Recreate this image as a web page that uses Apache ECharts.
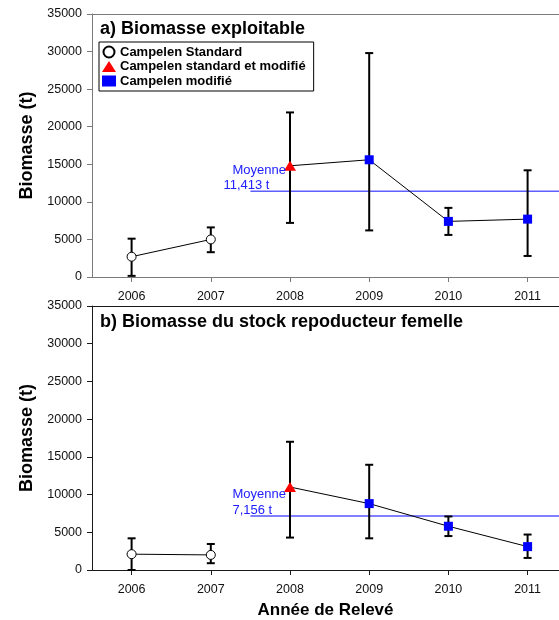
<!DOCTYPE html>
<html>
<head>
<meta charset="utf-8">
<script src="https://cdn.jsdelivr.net/npm/echarts@6/dist/echarts.min.js"></script>
<style>
  html, body { margin: 0; padding: 0; background: #fff; }
  #chart { width: 559px; height: 620px; }
</style>
</head>
<body>
<div id="chart"></div>
<script>
// ---- data ----
const years = [2006, 2007, 2008, 2009, 2010, 2011];
const gear = ['standard', 'standard', 'mixed', 'modified', 'modified', 'modified'];
const exploitValues = [2700, 5000, 14800, 15600, 7400, 7700];
const exploitLow = [150, 3300, 7200, 6200, 5600, 2800];
const exploitHigh = [5100, 6600, 21900, 29800, 9200, 14200];
const ssbValues = [2100, 2000, 11000, 8800, 5800, 3100];
const ssbLow = [0, 900, 4300, 4200, 4500, 1600];
const ssbHigh = [4200, 3450, 17000, 13950, 7100, 4700];
const meanExploit = 11413;
const meanSsb = 7156;
const meanStartYear = 2007.5;
const yTicks = [0, 5000, 10000, 15000, 20000, 25000, 30000, 35000];
const panelTitles = ['a) Biomasse exploitable', 'b) Biomasse du stock repoducteur femelle'];
const legendNames = ['Campelen Standard', 'Campelen standard et modifié', 'Campelen modifié'];
const yTitle = 'Biomasse (t)';
const xTitle = 'Année de Relevé';
const meanWord = 'Moyenne';

// ---- layout ----
const GRID_W = 467;
const X_MIN = 2005.5, X_MAX = 2005.5 + GRID_W / 79.2;
const FONT = '"Liberation Sans", Arial, sans-serif';
const axisColors = ['#7a7a7a', '#1a1a1a'];
const meanColors = ['#5f5fff', '#0000ff'];

const chart = echarts.init(document.getElementById('chart'), null, { renderer: 'canvas' });

function pts(vals, which) {
  const out = [];
  years.forEach((y, i) => { if (which.includes(gear[i])) out.push([y, vals[i]]); });
  return out;
}

function panelSeries(p, vals, low, high, mean) {
  const list = [];
  list.push({
    type: 'line', xAxisIndex: p, yAxisIndex: p, silent: true, z: 1,
    data: [[meanStartYear, mean], [X_MAX, mean]], symbol: 'none',
    lineStyle: { color: meanColors[p], width: p === 0 ? 1.6 : 1.2 }
  });
  list.push({
    type: 'custom', xAxisIndex: p, yAxisIndex: p, silent: true, z: 2,
    data: years.map((y, i) => [y, low[i], high[i]]),
    renderItem: function (params, api) {
      const x = api.value(0);
      const a = api.coord([x, api.value(1)]);
      const b = api.coord([x, api.value(2)]);
      const cap = 4;
      const st = { stroke: '#000', lineWidth: 2 };
      return {
        type: 'group',
        children: [
          { type: 'line', shape: { x1: a[0], y1: a[1], x2: b[0], y2: b[1] }, style: st },
          { type: 'line', shape: { x1: a[0] - cap, y1: a[1], x2: a[0] + cap, y2: a[1] }, style: st },
          { type: 'line', shape: { x1: b[0] - cap, y1: b[1], x2: b[0] + cap, y2: b[1] }, style: st }
        ]
      };
    }
  });
  list.push({
    type: 'line', xAxisIndex: p, yAxisIndex: p, silent: true, z: 3, symbol: 'none',
    data: pts(vals, ['standard']), lineStyle: { color: '#000', width: 1 }
  });
  list.push({
    type: 'line', xAxisIndex: p, yAxisIndex: p, silent: true, z: 3, symbol: 'none',
    data: pts(vals, ['mixed', 'modified']), lineStyle: { color: '#000', width: 1 }
  });
  list.push({
    name: legendNames[0], type: 'scatter', xAxisIndex: p, yAxisIndex: p, z: 4,
    symbol: 'circle', symbolSize: 9, data: pts(vals, ['standard']),
    itemStyle: { color: '#fff', borderColor: '#000', borderWidth: 1, opacity: 1 }
  });
  list.push({
    name: legendNames[1], type: 'scatter', xAxisIndex: p, yAxisIndex: p, z: 4,
    symbol: 'triangle', symbolSize: [12, 10], data: pts(vals, ['mixed']),
    itemStyle: { color: '#ff0000', opacity: 1 }
  });
  list.push({
    name: legendNames[2], type: 'scatter', xAxisIndex: p, yAxisIndex: p, z: 4,
    symbol: 'rect', symbolSize: 9, data: pts(vals, ['modified']),
    itemStyle: { color: '#0000ff', opacity: 1 }
  });
  return list;
}

function xAxis(p) {
  return {
    type: 'value', gridIndex: p, min: X_MIN, max: X_MAX,
    splitLine: { show: false },
    axisLine: { show: true, onZero: false, lineStyle: { color: axisColors[p], width: 1 } },
    axisTick: { show: true, inside: false, length: 5, customValues: years, lineStyle: { color: axisColors[p] } },
    axisLabel: { customValues: years, margin: 13, color: '#111', fontSize: 12.5, fontFamily: FONT, formatter: v => String(v) },
    name: p === 1 ? xTitle : '', nameLocation: 'middle', nameGap: 32,
    nameTextStyle: { fontSize: 17, fontWeight: 'bold', color: '#000', fontFamily: FONT }
  };
}

// top frame line of each panel (axis line only)
function xAxisTop(p) {
  return {
    type: 'value', gridIndex: p, position: 'top', min: X_MIN, max: X_MAX,
    splitLine: { show: false }, axisTick: { show: false }, axisLabel: { show: false },
    axisLine: { show: true, onZero: false, lineStyle: { color: axisColors[p], width: 1 } }
  };
}

function yAxis(p) {
  return {
    type: 'value', gridIndex: p, min: 0, max: 35000, interval: 5000,
    splitLine: { show: false },
    axisLine: { show: true, lineStyle: { color: axisColors[p], width: 1 } },
    axisTick: { show: true, inside: false, length: 5, lineStyle: { color: axisColors[p] } },
    axisLabel: { margin: 10, color: '#111', fontSize: 12.5, fontFamily: FONT, formatter: v => yTicks.includes(v) ? String(v) : '' },
    name: yTitle, nameLocation: 'middle', nameGap: 56, nameRotate: 90,
    nameTextStyle: { fontSize: 18, fontWeight: 'bold', color: '#000', fontFamily: FONT }
  };
}

const option = {
  animation: false,
  backgroundColor: '#fff',
  grid: [
    { left: 92, top: 14, width: GRID_W, height: 263, show: false },
    { left: 92, top: 306, width: GRID_W, height: 264, show: false }
  ],
  xAxis: [xAxis(0), xAxis(1), xAxisTop(0), xAxisTop(1)],
  yAxis: [yAxis(0), yAxis(1)],
  title: [
    { text: panelTitles[0], left: 100, top: 20, padding: 0, textStyle: { fontSize: 18, fontWeight: 'bold', color: '#000', fontFamily: FONT } },
    { text: panelTitles[1], left: 100, top: 313, padding: 0, textStyle: { fontSize: 18, fontWeight: 'bold', color: '#000', fontFamily: FONT } }
  ],
  legend: {
    data: [
      { name: legendNames[0], icon: 'circle' },
      { name: legendNames[1], icon: 'triangle' },
      { name: legendNames[2], icon: 'rect' }
    ],
    orient: 'vertical', left: 99, top: 42,
    padding: [3, 8, 3, 3], itemGap: 0.5, itemWidth: 14, itemHeight: 11,
    borderColor: '#000', borderWidth: 1, backgroundColor: '#fff',
    selectedMode: false,
    textStyle: { fontSize: 13, fontWeight: 'bold', color: '#000', fontFamily: FONT, lineHeight: 14, padding: [0, 0, 0, -1] }
  },
  series: [].concat(
    panelSeries(0, exploitValues, exploitLow, exploitHigh, meanExploit),
    panelSeries(1, ssbValues, ssbLow, ssbHigh, meanSsb)
  )
};
chart.setOption(option);

// mean annotations anchored to the mean lines
function fmt(v) { return v.toLocaleString('en-US') + ' t'; }
const a = chart.convertToPixel({ gridIndex: 0 }, [meanStartYear, meanExploit]);
const b = chart.convertToPixel({ gridIndex: 1 }, [meanStartYear, meanSsb]);
const txt = { fontSize: 13, fontFamily: FONT, fill: '#2020ff', verticalAlign: 'middle', align: 'left' };
chart.setOption({
  graphic: [
    { type: 'text', x: a[0] - 18, y: a[1] - 21, style: Object.assign({ text: meanWord }, txt), z: 10 },
    { type: 'text', x: a[0] - 27, y: a[1] - 6, style: Object.assign({ text: fmt(meanExploit) }, txt), z: 10 },
    { type: 'text', x: b[0] - 18, y: b[1] - 22, style: Object.assign({ text: meanWord }, txt), z: 10 },
    { type: 'text', x: b[0] - 18, y: b[1] - 6, style: Object.assign({ text: fmt(meanSsb) }, txt), z: 10 }
  ]
});
</script>
</body>
</html>
